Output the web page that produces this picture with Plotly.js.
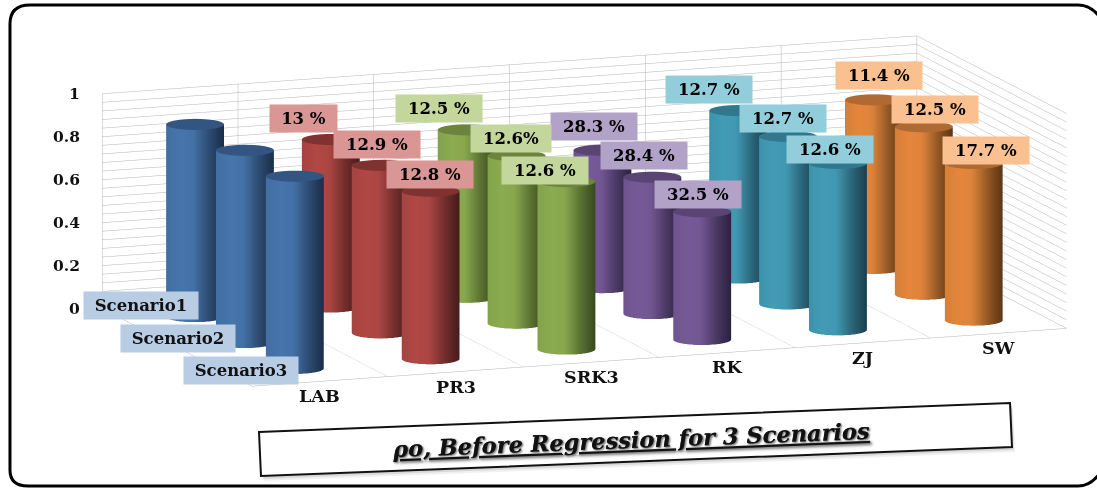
<!DOCTYPE html>
<html>
<head>
<meta charset="utf-8">
<script src="https://cdn.plot.ly/plotly-3.0.1.min.js"></script>
<style>html,body{margin:0;padding:0;background:#fff}#chart{width:1097px;height:488px}</style>
</head>
<body>
<div id="chart"></div>
<script>
// Oil density by correlation and scenario, drawn as a 3D cylinder chart
const categories = ["LAB", "PR3", "SRK3", "RK", "ZJ", "SW"];
const seriesNames = ["Scenario1", "Scenario2", "Scenario3"];
const scenario1Values = [0.895, 0.78, 0.78, 0.64, 0.78, 0.785];
const scenario2Values = [0.895, 0.78, 0.78, 0.635, 0.78, 0.78];
const scenario3Values = [0.895, 0.78, 0.78, 0.595, 0.775, 0.73];
const scenario1Errors = ["", "13 %", "12.5 %", "28.3 %", "12.7 %", "11.4 %"];
const scenario2Errors = ["", "12.9 %", "12.6%", "28.4 %", "12.7 %", "12.5 %"];
const scenario3Errors = ["", "12.8 %", "12.6 %", "32.5 %", "12.6 %", "17.7 %"];
const valueTicks = [0, 0.2, 0.4, 0.6, 0.8, 1];
const titleText = "ρo, Before Regression for 3 Scenarios";

const allValues = [scenario1Values, scenario2Values, scenario3Values];
const allErrors = [scenario1Errors, scenario2Errors, scenario3Errors];

// Pixel nudges of the percentage labels relative to each cylinder top
const labelShiftX = [[0, -27, -28, -8, -29, 5], [0, -4, -6, -8, -5, 11], [0, -1, -21, -4, -8, 12]];
const labelShiftY = [[0, 21, 21, 24, 21, 24], [0, 21, 17, 22, 18, 17], [0, 17, 11, 17, 14, 13]];
const labelWidths = {4: 65, 5: 78, 6: 84};
// Pixel nudges of the series labels relative to the left floor edge
const seriesShiftX = [14, 1, 14];
const seriesShiftY = [16, 9, 3];

// Face colour, dark edge colour, cap colour and label fill per category
const palette = [
  {face: [70, 117, 172], edge: [26, 44, 70], cap: [50, 85, 130], fill: "#b8cce4"},
  {face: [176, 72, 68], edge: [66, 26, 26], cap: [128, 50, 48], fill: "#d99694"},
  {face: [140, 172, 80], edge: [52, 70, 28], cap: [108, 132, 62], fill: "#c3d69b"},
  {face: [118, 90, 152], edge: [42, 32, 60], cap: [90, 68, 115], fill: "#b3a2c7"},
  {face: [66, 156, 182], edge: [24, 60, 74], cap: [50, 120, 140], fill: "#92cddc"},
  {face: [228, 135, 60], edge: [86, 52, 20], cap: [175, 105, 50], fill: "#fac090"}
];

const azimuth = 20.3 * Math.PI / 180;
const elevation = 11.07 * Math.PI / 180;
const eyeDistance = 2;
const sceneScale = 3.56;
const radiusX = 0.2, radiusY = 0.2, segments = 72;

function shadeAt(u, c) {
  // u runs -1..1 across the visible width of a cylinder
  const stops = [[-1, 0.9], [-0.5, 1], [-0.05, 0.95], [0.5, 0.42], [1, 0.03]];
  let k = 0;
  for (let i = 0; i < stops.length - 1; i++) {
    if (u >= stops[i][0] && u <= stops[i + 1][0]) {
      const t = (u - stops[i][0]) / (stops[i + 1][0] - stops[i][0]);
      k = stops[i][1] + t * (stops[i + 1][1] - stops[i][1]);
    }
  }
  const rgb = c.face.map((f, n) => Math.round(c.edge[n] + k * (f - c.edge[n])));
  return `rgb(${rgb[0]},${rgb[1]},${rgb[2]})`;
}

function cylinder(cat, ser) {
  const cx = cat + 0.5, cy = 2.5 - ser, h = allValues[ser][cat], c = palette[cat];
  const x = [], y = [], z = [], col = [], i = [], j = [], k = [];
  const capCol = `rgb(${c.cap.join(",")})`;
  for (let s = 0; s < segments; s++) {
    const t = 2 * Math.PI * s / segments;
    const px = cx + radiusX * Math.cos(t), py = cy + radiusY * Math.sin(t);
    const shade = shadeAt(Math.cos(t + azimuth), c);
    x.push(px, px); y.push(py, py); z.push(0, h); col.push(shade, shade);
  }
  for (let s = 0; s < segments; s++) {
    const n = (s + 1) % segments;
    i.push(2 * s, 2 * s + 1); j.push(2 * n, 2 * n); k.push(2 * s + 1, 2 * n + 1);
  }
  const capStart = x.length;
  for (let s = 0; s < segments; s++) {
    const t = 2 * Math.PI * s / segments;
    x.push(cx + radiusX * Math.cos(t)); y.push(cy + radiusY * Math.sin(t)); z.push(h); col.push(capCol);
  }
  x.push(cx); y.push(cy); z.push(h); col.push(capCol);
  const hub = x.length - 1;
  for (let s = 0; s < segments; s++) {
    i.push(hub); j.push(capStart + s); k.push(capStart + (s + 1) % segments);
  }
  return {
    type: "mesh3d", name: seriesNames[ser] + " " + categories[cat],
    x, y, z, i, j, k, vertexcolor: col, flatshading: false, showscale: false, hoverinfo: "skip",
    lighting: {ambient: 1, diffuse: 0, specular: 0, roughness: 1, fresnel: 0}
  };
}

const traces = [];
seriesNames.forEach((_, ser) => categories.forEach((_, cat) => traces.push(cylinder(cat, ser))));

const serif = "'DejaVu Serif', serif";
const sceneNotes = [];
// Percentage labels above the cylinders
allErrors.forEach((row, ser) => row.forEach((txt, cat) => {
  if (!txt) return;
  sceneNotes.push({
    x: cat + 0.5, y: 2.5 - ser, z: allValues[ser][cat], text: "<b>" + txt + "</b>", showarrow: false,
    bgcolor: palette[cat].fill, width: labelWidths[txt.length], height: 25,
    xshift: labelShiftX[ser][cat], yshift: labelShiftY[ser][cat],
    font: {family: serif, size: 16.5, color: "#000"}
  });
}));
// Value axis labels
valueTicks.forEach(v => sceneNotes.push({
  x: 0, y: 3, z: v, text: "<b>" + v + "</b>", showarrow: false, xanchor: "right",
  xshift: -20, font: {family: serif, size: 15.5, color: "#111"}
}));
// Category labels along the front edge
categories.forEach((c, n) => sceneNotes.push({
  x: n + 0.5, y: 0, z: 0, text: "<b>" + c + "</b>", showarrow: false, yshift: -15,
  font: {family: serif, size: 17.5, color: "#111"}
}));
// Series labels along the left edge
seriesNames.forEach((s, n) => sceneNotes.push({
  x: 0, y: 2.5 - n, z: 0, text: "<b>" + s + "</b>", showarrow: false,
  xshift: seriesShiftX[n], yshift: seriesShiftY[n],
  bgcolor: "#b8cce4", width: 112, height: 25,
  font: {family: serif, size: 16.5, color: "#111"}
}));

const wallTicks = [];
for (let n = 0; n <= 25; n++) wallTicks.push(n / 25);

const gridGrey = "#b4b4b4";
const hiddenAxis = {showticklabels: false, ticks: "", ticklen: 0, tickwidth: 0, title: {text: ""}, zeroline: false, showspikes: false, showbackground: false};

// Screen-aligned pan of the camera, in page pixels
const panRight = 36, panUp = 33, panUnit = 0.00409;
const rightVec = [Math.cos(azimuth), -Math.sin(azimuth), 0];
const upVec = [Math.sin(azimuth) * Math.sin(elevation), Math.cos(azimuth) * Math.sin(elevation), Math.cos(elevation)];
const panned = n => -(panRight * rightVec[n] + panUp * upVec[n]) * panUnit;

// Helpers converting page pixels to paper fractions
const px = v => (v / 1097).toFixed(4), py = v => (1 - v / 488).toFixed(4);
const quad = (p, dx, dy) => p.map((c, n) => (n ? "L " : "M ") + px(c[0] + dx) + " " + py(c[1] + dy)).join(" ") + " Z";
const titleBox = [[259, 432], [1010, 403], [1012, 447], [261, 476]];

const layout = {
  width: 1097, height: 488, margin: {l: 0, r: 0, t: 0, b: 0}, showlegend: false,
  paper_bgcolor: "#fff",
  scene: {
    domain: {x: [0, 1], y: [0, 1]},
    aspectmode: "manual", aspectratio: {x: sceneScale, y: 0.4966 * sceneScale, z: 0.252 * sceneScale},
    camera: {
      projection: {type: "orthographic"},
      up: {x: 0, y: 0, z: 1}, center: {x: panned(0), y: panned(1), z: panned(2)},
      eye: {
        x: panned(0) - eyeDistance * Math.sin(azimuth) * Math.cos(elevation),
        y: panned(1) - eyeDistance * Math.cos(azimuth) * Math.cos(elevation),
        z: panned(2) + eyeDistance * Math.sin(elevation)
      }
    },
    xaxis: Object.assign({range: [0, 6], tickvals: [0, 1, 2, 3, 4, 5, 6], gridcolor: gridGrey, showline: true, linecolor: gridGrey}, hiddenAxis),
    yaxis: Object.assign({range: [0, 3], showgrid: false, showline: true, linecolor: gridGrey}, hiddenAxis),
    zaxis: Object.assign({range: [0, 1], tickvals: wallTicks, gridcolor: gridGrey, showline: false}, hiddenAxis),
    annotations: sceneNotes
  },
  annotations: [{
    xref: "paper", yref: "paper", xanchor: "center", yanchor: "middle", x: 631 / 1097, y: 1 - 440 / 488,
    text: "<b><i><u>" + titleText + "</u></i></b>", showarrow: false, textangle: -2.2,
    font: {family: serif, size: 22.5, color: "#111", shadow: "1px 1px 2px #888"}
  }],
  shapes: [
    // Soft shadow under the title box
    {type: "path", xref: "paper", yref: "paper", layer: "above", path: quad(titleBox, 3, 5), fillcolor: "rgba(0,0,0,0.06)", line: {width: 0}},
    {type: "path", xref: "paper", yref: "paper", layer: "above", path: quad(titleBox, 2, 3), fillcolor: "rgba(0,0,0,0.10)", line: {width: 0}},
    {type: "path", xref: "paper", yref: "paper", layer: "above", path: quad(titleBox, 0, 0), fillcolor: "#fff", line: {color: "#111", width: 2}},
    // Rounded outer frame, open past the right edge of the page
    {type: "path", xref: "paper", yref: "paper", layer: "above", line: {color: "#000", width: 3},
     path: `M ${px(10)} ${py(470)} L ${px(10)} ${py(24)} Q ${px(10)} ${py(5)} ${px(30)} ${py(5)} ` +
           `L ${px(1078)} ${py(5)} Q ${px(1092)} ${py(5)} ${px(1102)} ${py(20)} L ${px(1102)} ${py(470)} ` +
           `Q ${px(1092)} ${py(486)} ${px(1078)} ${py(486)} L ${px(28)} ${py(486)} Q ${px(10)} ${py(486)} ${px(10)} ${py(470)} Z`}
  ]
};

Plotly.newPlot("chart", traces, layout, {displayModeBar: false});
</script>
</body>
</html>
